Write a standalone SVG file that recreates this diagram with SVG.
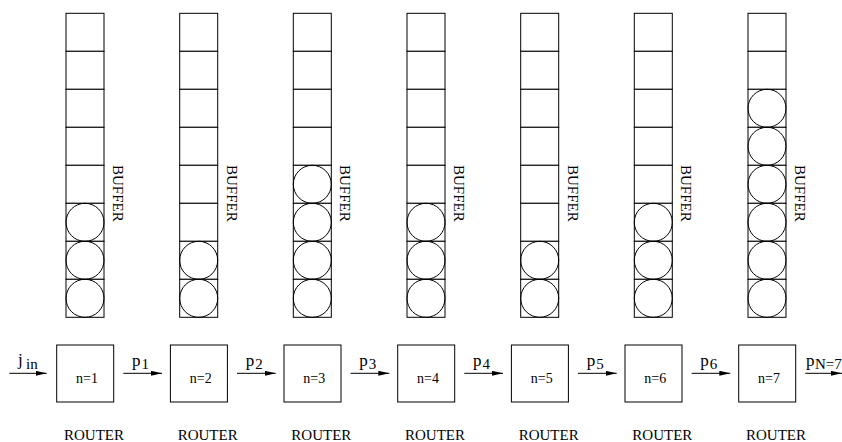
<svg xmlns="http://www.w3.org/2000/svg" width="842" height="442" viewBox="0 0 842 442">
<style>
.cell{fill:#fff;stroke:#000;stroke-width:1}
.ball{fill:none;stroke:#000;stroke-width:1}
.box{fill:#fff;stroke:#000;stroke-width:1}
.t{font-family:"Liberation Serif","Times New Roman",serif;fill:#000}
.lbl{font-size:17px}
.sub{font-size:15px}
.n{font-size:14px;text-anchor:middle}
.r{font-size:15px;text-anchor:middle}
.b{font-size:15px;text-anchor:middle}
.arr{stroke:#000;stroke-width:1;fill:none;marker-end:url(#ah)}
</style>
<defs>
<marker id="ah" markerUnits="userSpaceOnUse" markerWidth="12" markerHeight="6" refX="11" refY="2.5" orient="auto">
<path d="M0,0 L11,2.5 L0,5 Z" fill="#000"/>
</marker>
<g id="col">
<rect class="cell" x="0" y="0" width="38" height="38"/>
<rect class="cell" x="0" y="38" width="38" height="38"/>
<rect class="cell" x="0" y="76" width="38" height="38"/>
<rect class="cell" x="0" y="114" width="38" height="38"/>
<rect class="cell" x="0" y="152" width="38" height="38"/>
<rect class="cell" x="0" y="190" width="38" height="38"/>
<rect class="cell" x="0" y="228" width="38" height="38"/>
<rect class="cell" x="0" y="266" width="38" height="38"/>
</g>
</defs>

<g id="buffer1" transform="translate(66,13.3)">
<use href="#col"/>
<circle class="ball" cx="19" cy="209" r="19"/><circle class="ball" cx="19" cy="247" r="19"/><circle class="ball" cx="19" cy="285" r="19"/>
<text class="t b" transform="translate(47,180) rotate(90)">BUFFER</text>
</g>
<g id="buffer2" transform="translate(179.7,13.3)">
<use href="#col"/>
<circle class="ball" cx="19" cy="247" r="19"/><circle class="ball" cx="19" cy="285" r="19"/>
<text class="t b" transform="translate(47,180) rotate(90)">BUFFER</text>
</g>
<g id="buffer3" transform="translate(293.3,13.3)">
<use href="#col"/>
<circle class="ball" cx="19" cy="171" r="19"/><circle class="ball" cx="19" cy="209" r="19"/><circle class="ball" cx="19" cy="247" r="19"/><circle class="ball" cx="19" cy="285" r="19"/>
<text class="t b" transform="translate(47,180) rotate(90)">BUFFER</text>
</g>
<g id="buffer4" transform="translate(407,13.3)">
<use href="#col"/>
<circle class="ball" cx="19" cy="209" r="19"/><circle class="ball" cx="19" cy="247" r="19"/><circle class="ball" cx="19" cy="285" r="19"/>
<text class="t b" transform="translate(47,180) rotate(90)">BUFFER</text>
</g>
<g id="buffer5" transform="translate(520.7,13.3)">
<use href="#col"/>
<circle class="ball" cx="19" cy="247" r="19"/><circle class="ball" cx="19" cy="285" r="19"/>
<text class="t b" transform="translate(47,180) rotate(90)">BUFFER</text>
</g>
<g id="buffer6" transform="translate(634.3,13.3)">
<use href="#col"/>
<circle class="ball" cx="19" cy="209" r="19"/><circle class="ball" cx="19" cy="247" r="19"/><circle class="ball" cx="19" cy="285" r="19"/>
<text class="t b" transform="translate(47,180) rotate(90)">BUFFER</text>
</g>
<g id="buffer7" transform="translate(748,13.3)">
<use href="#col"/>
<circle class="ball" cx="19" cy="95" r="19"/><circle class="ball" cx="19" cy="133" r="19"/><circle class="ball" cx="19" cy="171" r="19"/><circle class="ball" cx="19" cy="209" r="19"/><circle class="ball" cx="19" cy="247" r="19"/><circle class="ball" cx="19" cy="285" r="19"/>
<text class="t b" transform="translate(47,180) rotate(90)">BUFFER</text>
</g>

<g id="router1" transform="translate(66,0)">
<rect class="box" x="-9.3" y="345" width="57" height="57"/>
<text class="t n" x="21" y="383.3">n=1</text>
<text class="t r" x="28" y="440">ROUTER</text>
</g>
<g id="router2" transform="translate(179.7,0)">
<rect class="box" x="-9.3" y="345" width="57" height="57"/>
<text class="t n" x="21" y="383.3">n=2</text>
<text class="t r" x="28" y="440">ROUTER</text>
</g>
<g id="router3" transform="translate(293.3,0)">
<rect class="box" x="-9.3" y="345" width="57" height="57"/>
<text class="t n" x="21" y="383.3">n=3</text>
<text class="t r" x="28" y="440">ROUTER</text>
</g>
<g id="router4" transform="translate(407,0)">
<rect class="box" x="-9.3" y="345" width="57" height="57"/>
<text class="t n" x="21" y="383.3">n=4</text>
<text class="t r" x="28" y="440">ROUTER</text>
</g>
<g id="router5" transform="translate(520.7,0)">
<rect class="box" x="-9.3" y="345" width="57" height="57"/>
<text class="t n" x="21" y="383.3">n=5</text>
<text class="t r" x="28" y="440">ROUTER</text>
</g>
<g id="router6" transform="translate(634.3,0)">
<rect class="box" x="-9.3" y="345" width="57" height="57"/>
<text class="t n" x="21" y="383.3">n=6</text>
<text class="t r" x="28" y="440">ROUTER</text>
</g>
<g id="router7" transform="translate(748,0)">
<rect class="box" x="-9.3" y="345" width="57" height="57"/>
<text class="t n" x="21" y="383.3">n=7</text>
<text class="t r" x="28" y="440">ROUTER</text>
</g>

<g id="connectors">
<line class="arr" x1="9.3" y1="373.3" x2="46.7" y2="373.3"/>
<line class="arr" x1="123.3" y1="373.3" x2="162" y2="373.3"/>
<line class="arr" x1="237" y1="373.3" x2="275.7" y2="373.3"/>
<line class="arr" x1="350.6" y1="373.3" x2="389.3" y2="373.3"/>
<line class="arr" x1="464.3" y1="373.3" x2="503" y2="373.3"/>
<line class="arr" x1="578" y1="373.3" x2="616.7" y2="373.3"/>
<line class="arr" x1="691.6" y1="373.3" x2="730.3" y2="373.3"/>
<line class="arr" x1="805.3" y1="373.3" x2="842" y2="373.3"/>
<text class="t lbl" x="18" y="365">j</text><text class="t sub" x="26" y="368.5">in</text>
<text class="t lbl" x="132" y="366">p</text><text class="t sub" x="141.5" y="368.5">1</text>
<text class="t lbl" x="245.7" y="366">p</text><text class="t sub" x="255.2" y="368.5">2</text>
<text class="t lbl" x="359.3" y="366">p</text><text class="t sub" x="368.8" y="368.5">3</text>
<text class="t lbl" x="473" y="366">p</text><text class="t sub" x="482.5" y="368.5">4</text>
<text class="t lbl" x="586.7" y="366">p</text><text class="t sub" x="596.2" y="368.5">5</text>
<text class="t lbl" x="700.3" y="366">p</text><text class="t sub" x="709.8" y="368.5">6</text>
<text class="t lbl" x="806" y="366">p</text><text class="t sub" x="815" y="368.5">N=7</text>
</g>
</svg>
